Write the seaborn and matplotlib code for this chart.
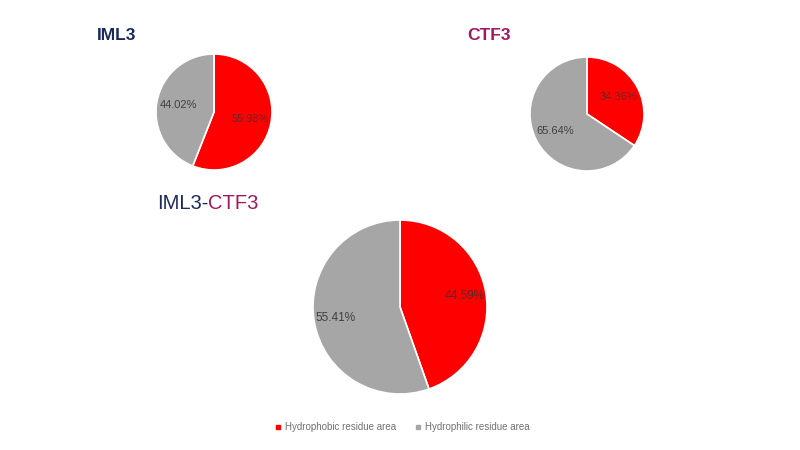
import matplotlib
matplotlib.use("Agg")
import matplotlib.pyplot as plt
import seaborn as sns
from matplotlib.lines import Line2D

# Data
categories = ["Hydrophobic residue area", "Hydrophilic residue area"]
proteins = ["IML3", "CTF3", "IML3-CTF3"]
hydrophobic = [55.98, 34.36, 44.59]
hydrophilic = [44.02, 65.64, 55.41]

sns.set_theme(style="white")
plt.rcParams["font.family"] = ["Liberation Sans", "DejaVu Sans"]

colors = ["#FF0000", "#A6A6A6"]
navy = "#1B2A5E"
maroon = "#A0185E"

W, H = 800, 450
fig = plt.figure(figsize=(8, 4.5), dpi=100)
fig.patch.set_facecolor("white")

# (center_x_px, center_y_px_from_top, radius_px, pctdistance, fontsize)
layout = [(214, 112, 58, 0.63, 8), (587, 114, 57, 0.63, 8), (400, 307, 87, 0.75, 8.5)]

for i, (cx, cy, r, pd_, fs) in enumerate(layout):
    ax = fig.add_axes([(cx - r) / W, 1 - (cy + r) / H, 2 * r / W, 2 * r / H])
    vals = [hydrophobic[i], hydrophilic[i]]
    wedges, texts, autotexts = ax.pie(
        vals, colors=colors, startangle=90, counterclock=False,
        autopct="%.2f%%", pctdistance=pd_,
        wedgeprops=dict(edgecolor="white", linewidth=1.2),
        textprops=dict(fontsize=fs, color="#404040"),
    )
    autotexts[0].set_color("#5A2A2A")
    ax.set_xlim(-1.0, 1.0)
    ax.set_ylim(-1.0, 1.0)
    ax.set_aspect("equal")
    ax.axis("off")

# Titles
fig.text(97 / W, 1 - 40 / H, proteins[0], color=navy, fontsize=12.5,
         fontweight="bold", ha="left", va="baseline")
fig.text(467 / W, 1 - 40 / H, proteins[1], color=maroon, fontsize=12.5,
         fontweight="bold", ha="left", va="baseline")
t1 = fig.text(157 / W, 1 - 209 / H, "IML3-", color=navy, fontsize=14.5,
              ha="left", va="baseline")
fig.canvas.draw()
bb = t1.get_window_extent(renderer=fig.canvas.get_renderer())
fig.text(bb.x1 / W, 1 - 209 / H, "CTF3", color=maroon, fontsize=14.5,
         ha="left", va="baseline")

# Legend
handles = [Line2D([0], [0], marker="s", linestyle="", markersize=2.6,
                  markerfacecolor=c, markeredgecolor=c) for c in colors]
leg = fig.legend(handles, categories, loc="center", bbox_to_anchor=(403 / W, 1 - 427 / H),
                 ncol=2, frameon=False, fontsize=7.0, handlelength=0.4,
                 handletextpad=0.55, columnspacing=2.0, labelcolor="#707070")

fig.savefig("out.png", dpi=100, facecolor="white")
